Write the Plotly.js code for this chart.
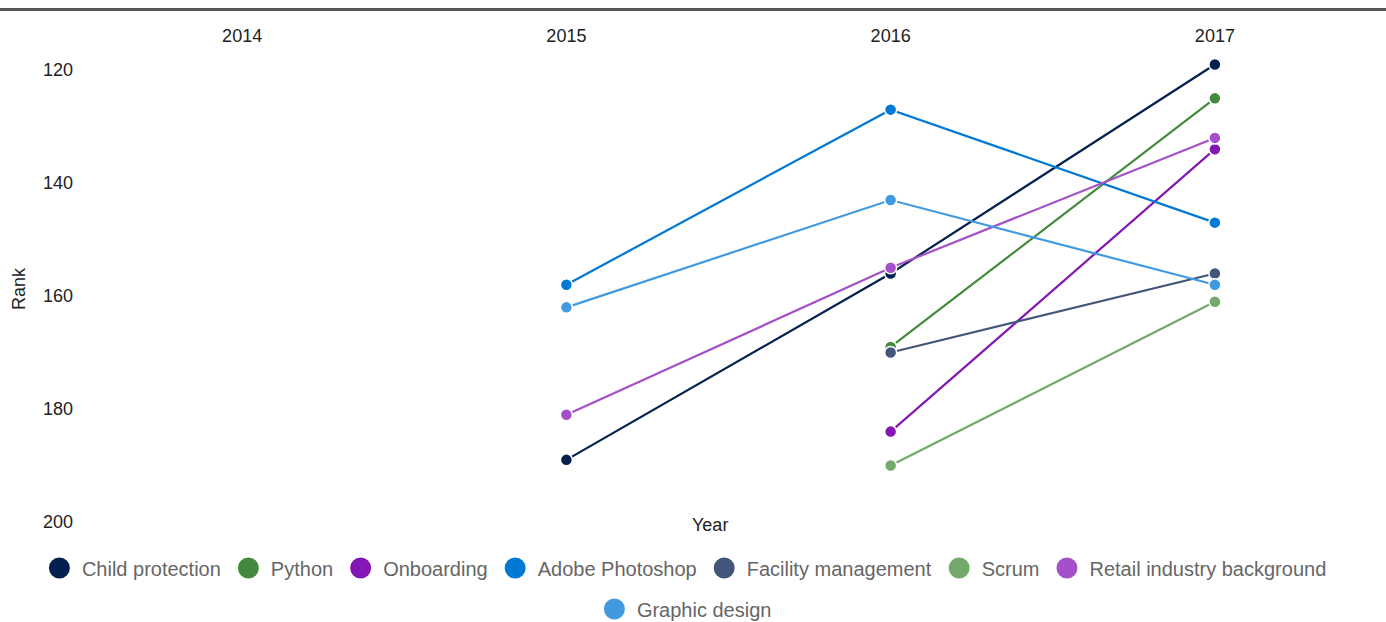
<!DOCTYPE html>
<html>
<head>
<meta charset="utf-8">
<script src="https://cdn.plot.ly/plotly-3.0.1.min.js"></script>
<style>
  html, body { margin: 0; padding: 0; background: #fff; }
  #chart { width: 1386px; height: 622px; }
</style>
</head>
<body>
<div id="chart"></div>
<script>
// ---- data ----
const yearTicks = [2014, 2015, 2016, 2017];
const seriesNames = ["Child protection", "Python", "Onboarding", "Adobe Photoshop",
  "Facility management", "Scrum", "Retail industry background", "Graphic design"];
const seriesColors = ["#03204f", "#448a3d", "#8317b4", "#0078d4",
  "#42557b", "#73a96a", "#a350c9", "#419ae0"];

const childProtectionYears = [2015, 2016, 2017];
const childProtectionRank = [189, 156, 119];
const pythonYears = [2016, 2017];
const pythonRank = [169, 125];
const onboardingYears = [2016, 2017];
const onboardingRank = [184, 134];
const photoshopYears = [2015, 2016, 2017];
const photoshopRank = [158, 127, 147];
const facilityYears = [2016, 2017];
const facilityRank = [170, 156];
const scrumYears = [2016, 2017];
const scrumRank = [190, 161];
const retailYears = [2015, 2016, 2017];
const retailRank = [181, 155, 132];
const graphicYears = [2015, 2016, 2017];
const graphicRank = [162, 143, 158];

const seriesX = [childProtectionYears, pythonYears, onboardingYears, photoshopYears,
  facilityYears, scrumYears, retailYears, graphicYears];
const seriesY = [childProtectionRank, pythonRank, onboardingRank, photoshopRank,
  facilityRank, scrumRank, retailRank, graphicRank];

// ---- traces ----
const traces = [];
seriesNames.forEach((name, i) => {
  traces.push({
    type: 'scatter', mode: 'lines+markers', name: name,
    x: seriesX[i], y: seriesY[i],
    line: { color: seriesColors[i], width: 2.2 },
    marker: { color: seriesColors[i], size: 12, line: { color: '#ffffff', width: 1.5 } },
    showlegend: false, cliponaxis: false
  });
});
// legend-only entries (bigger symbols)
seriesNames.forEach((name, i) => {
  traces.push({
    type: 'scatter', mode: 'markers', name: name,
    x: [null], y: [null],
    marker: { color: seriesColors[i], size: 16, line: { color: seriesColors[i], width: 5 } },
    showlegend: true, hoverinfo: 'skip',
    legend: i === seriesNames.length - 1 ? 'legend2' : 'legend'
  });
});

const fontFam = '"Liberation Sans", Arial, sans-serif';
const layout = {
  width: 1386, height: 622,
  margin: { l: 80, r: 9, t: 56, b: 100, autoexpand: false },
  paper_bgcolor: '#ffffff', plot_bgcolor: '#ffffff',
  font: { family: fontFam, size: 16, color: '#222222' },
  xaxis: {
    side: 'top', range: [2013.5, 2017.5],
    tickvals: yearTicks, ticktext: yearTicks.map(String),
    showgrid: false, zeroline: false, showline: false,
    ticks: '', ticklabelstandoff: 9, automargin: false,
    tickfont: { size: 18, color: '#222222' }
  },
  yaxis: {
    range: [200, 117.5],
    tickvals: [120, 140, 160, 180, 200],
    showgrid: false, zeroline: false, showline: false,
    ticks: '', ticklabelstandoff: 6, automargin: false,
    tickfont: { size: 18, color: '#222222' },
    title: { text: 'Rank', font: { size: 18, color: '#222222' }, standoff: 12 }
  },
  annotations: [{
    text: 'Year', xref: 'paper', yref: 'paper', x: 0.486, y: 0,
    xanchor: 'center', yanchor: 'middle', yshift: -3, showarrow: false,
    font: { size: 18, color: '#222222' }
  }],
  shapes: [{
    type: 'line', xref: 'paper', yref: 'paper',
    x0: -80 / 1297, x1: 1306 / 1297, y0: (522 - 9.5) / 466, y1: (522 - 9.5) / 466,
    line: { color: '#555555', width: 3 }
  }],
  legend: {
    orientation: 'h', x: 0.466, xanchor: 'center', itemwidth: 35,
    yref: 'container', y: 1 - 568 / 622, yanchor: 'middle',
    font: { size: 20, color: '#666666' }, bgcolor: 'rgba(0,0,0,0)'
  },
  legend2: {
    orientation: 'h', x: 0.466, xanchor: 'center', itemwidth: 35,
    yref: 'container', y: 1 - 609 / 622, yanchor: 'middle',
    font: { size: 20, color: '#666666' }, bgcolor: 'rgba(0,0,0,0)'
  },
  showlegend: true
};

Plotly.newPlot('chart', traces, layout, { displayModeBar: false, responsive: false });
</script>
</body>
</html>
